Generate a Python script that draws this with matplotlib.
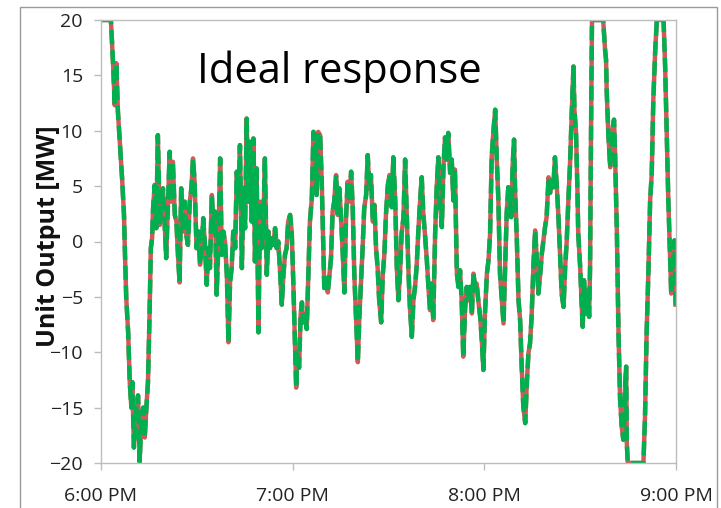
import matplotlib
matplotlib.use("Agg")
import matplotlib.pyplot as plt
from matplotlib.patches import Rectangle

# minutes after 6:00 PM
minutes = [
    0, 3.1, 3.8, 4.3, 4.8, 5.3, 5.9, 6.6, 7.2, 7.4,
    7.9, 8.5, 9.0, 9.5, 9.8, 10.3, 11.1, 11.6, 12.1, 12.6,
    13.2, 13.7, 14.2, 14.7, 15.2, 15.6, 16.0, 16.3, 16.8, 17.3,
    17.8, 18.4, 18.9, 19.4, 19.9, 20.4, 21.0, 21.5, 22.0, 22.5,
    23.1, 23.6, 24.1, 24.6, 25.1, 25.7, 26.2, 26.7, 27.2, 27.8,
    28.3, 28.8, 29.3, 29.9,
    30.5, 31.0, 31.5, 32.0, 32.6, 33.1, 33.6, 34.1, 34.7, 35.2,
    35.7, 36.2, 36.7, 37.3, 37.8, 38.3, 38.8, 39.4, 39.9, 40.4,
    40.9, 41.4, 42.0, 42.5, 43.0, 43.5, 44.1, 44.6, 45.1, 45.6,
    46.1, 46.7, 47.2, 47.7, 48.2, 48.7, 49.3, 49.8, 50.3, 50.8,
    51.3, 51.9, 52.4, 52.9, 53.4, 53.9, 54.5, 55.0, 55.5, 56.0,
    56.6, 57.1, 57.6, 58.1, 58.6, 59.2, 59.7,
    60.2, 60.7, 61.1, 61.5, 62.0, 62.5, 62.9, 63.3, 63.9, 64.4,
    64.9, 65.4, 66.0, 66.5, 67.0, 67.3, 67.5, 68.0, 68.6, 69.1,
    69.6, 69.9, 70.4, 71.0, 71.5, 72.0, 72.5, 73.0, 73.6, 74.1,
    74.6, 75.1, 75.7, 76.2, 76.7, 77.2, 77.7, 78.3, 78.8, 79.3,
    79.8, 80.4, 80.9, 81.4, 81.9, 82.4, 83.0, 83.5, 84.0, 84.5,
    85.1, 85.6, 86.1, 86.6, 87.1, 87.7, 88.2, 88.7, 89.2, 89.8,
    90.3,
    91.0, 91.5, 92.1, 92.6, 93.1, 93.6, 94.1, 94.7, 95.2, 95.7,
    96.2, 96.7, 97.3, 97.8, 98.3, 98.8, 99.3, 99.9, 100.4, 100.9,
    101.4, 102.0, 102.5, 103.0, 103.5, 104.0, 104.6, 105.1, 105.6, 106.1,
    106.7, 107.2, 107.7, 108.2, 108.7, 109.3, 109.8, 110.3, 110.8, 111.4,
    111.9, 112.4, 112.9, 113.4, 114.0, 114.5, 115.0, 115.5, 116.1, 116.6,
    117.1, 117.6, 118.1, 118.7, 119.2, 119.7, 120.2, 120.8, 121.3, 121.8,
    122.3, 122.8, 123.4, 123.9, 124.4,
    124.9, 125.5, 126.0, 126.5, 127.0, 127.5, 128.1, 128.4, 128.9, 129.3,
    129.6, 130.2, 130.7, 131.2, 131.7, 132.2, 132.8, 133.3, 133.8, 134.3,
    134.8, 135.4, 135.9, 136.4, 136.9, 137.5, 138.0, 138.5, 139.0, 139.5,
    140.1, 140.6, 141.1, 141.6, 142.1, 142.7, 143.2, 143.7, 144.2, 144.8,
    145.3, 145.8, 146.3, 146.8, 147.4, 147.9, 148.2, 148.7, 149.1, 149.4,
    150.0, 150.5, 150.8, 151.2, 151.8, 152.3, 152.8, 153.1, 153.4, 153.7,
    157.2, 157.8, 158.1, 158.3, 158.8, 159.4, 159.7, 160.2, 160.6, 160.9,
    161.5, 162.0, 162.5, 163.0, 163.5, 164.1, 164.4, 164.6, 164.9, 169.8,
    170.3, 170.8, 171.4, 171.9, 172.4, 172.9, 173.5, 174.0, 176.1, 176.6,
    177.1, 177.6, 178.2, 178.5, 178.9, 179.5, 179.9,
]

# unit output in MW
output_mw = [
    20, 20, 15.9, 12.3, 16.1, 11.7, 9.0, 5.7, 2.4, 0,
    -5.1, -8.2, -12.7, -15, -12.7, -18.6, -15, -13.9, -19.9, -16.3,
    -15, -17.7, -15, -12.7, -6.6, -0.6, 0.3, 3, 5.1, 1.2,
    9.6, 1.5, 3.6, 4.8, 1.8, -1.5, 3.6, 8.1, 3.6, 7.2,
    2.4, 1.8, -1.2, -3.7, 4.8, 0.9, 3.6, 0.6, -0.3, 3.6,
    4.8, 7.5, 5.4, -0.6,
    0.9, -2.1, -0.6, 2.1, -0.6, -3.9, -0.6, -2.4, 4.2, 1.2,
    2.7, -4.8, -0.6, 7.5, -1.2, 0.9, 0, -3, -9.1, -3.7,
    -2.4, 0.9, -0.6, 6.3, 3.6, 8.7, -2.4, 4.8, 1.2, 11.1,
    3.6, 9.0, 1.8, 9.3, -1.8, 6.6, -8.2, 3.6, -0.6, 1.2,
    7.5, -3, 0.9, -0.6, 0.3, -0.3, 1.2, -0.6, 0, -2.4,
    -5.7, -3, -1.2, -0.6, 1.8, 2.4, 0.9,
    -3.7, -9.1, -13.2, -10.2, -11.4, -6.6, -5.5, -7.3, -6.6, -7.9,
    -3, 1.8, 3.9, 9.9, 9.3, 7.8, 4.2, 9.9, 9.6, 5.4,
    -0.6, -4.2, -3.3, -4.6, -3, -1.5, 2.7, 3.6, 6.0, 2.4,
    4.8, 2.4, -1.2, -4.6, 2.1, 5.4, 3.6, 6.3, 3, -3,
    -6.6, -10.9, -6.6, -3.7, -0.6, 3, 4.2, 7.8, 4.8, 6.0,
    1.8, 3.3, -0.6, -2.4, -5.4, -7.3, -3, -1.2, 2.4, 5.1,
    6,
    3.1, 7.6, 3.7, -2.3, -5.3, -2.9, 0.7, 2.2, 7.4, 2.5,
    -2.3, -5.9, -8.6, -5.3, -4.1, -2.3, 0.7, 3.7, 5.8, 2.5,
    0.7, -1.7, -4.1, -6.2, -3.8, -7.1, 0.7, 4.9, 7.6, 3.7,
    1.3, 6.7, 9.4, 7.4, 9.8, 6.2, 7.4, 3.7, 6.5, -2.9,
    -4.1, -2.6, -5.3, -10.4, -5.9, -4.1, -5.3, -4.1, -6.5, -2.9,
    -4.1, -3.8, -5.3, -6.8, -8.9, -11.6, -6.5, -2.9, -1.7, 0.7,
    7.6, 9.8, 11.9, 7.4, 3.7,
    -2.9, -5.3, -7.4, -2.3, 2.5, 4.9, 3.7, 2.2, 7.1, 9.2,
    4.9, -0.1, -5.3, -7.1, -11.3, -14.9, -16.4, -12.8, -10.1, -9.2,
    -6.8, -2, 1, -1.4, -4.7, -2.9, -1.1, 0.1, 1.3, 2.2,
    5.8, 4.4, 5.5, 4.9, 7.6, 4.9, 2.2, -1.1, -4.7, -5.9,
    -2.3, 0.1, 3.7, 6.8, 11.9, 15.8, 11.9, 9.8, 5.2, 0.7,
    -2.3, -5.9, -7.7, -3.5, -6.5, -4.4, -6.8, -2.3, 9.8, 20,
    20, 17.3, 16.4, 13.7, 9.8, 6.7, 8.5, 10.3, 11.0, 8.2,
    0.7, -8.3, -14.3, -16.7, -17.9, -12.8, -11.3, -18.2, -20, -20,
    -15.8, -8.3, -2.3, 3.7, 6.1, 12.8, 17.3, 20, 20, 15.8,
    9.8, 3.7, -1.7, -4.7, -2.3, 0.1, -5.9,
]

hour_ticks = [0, 60, 120, 180]
hour_labels = ["6:00 PM", "7:00 PM", "8:00 PM", "9:00 PM"]
y_ticks = [-20, -15, -10, -5, 0, 5, 10, 15, 20]

plt.rcParams['font.family'] = ['Open Sans', 'DejaVu Sans']

fig = plt.figure(figsize=(7.21, 5.08), dpi=100)
ax = fig.add_axes([101 / 721, 45 / 508, 575 / 721, 443 / 508])

# chart area frame
fig.patches.append(Rectangle((20 / 721, -0.02), 697 / 721, 1 - 7 / 508 + 0.02,
                             transform=fig.transFigure, fill=False,
                             edgecolor='#9a9a9a', linewidth=1.0))

# red solid under green dashes
ax.plot(minutes, output_mw, color='#cf5a57', linewidth=3.2, solid_capstyle='butt')
ax.plot(minutes, output_mw, color='#00b050', linewidth=3.2,
        linestyle=(0, (3.2, 1.3)), dash_capstyle='butt')

ax.set_xlim(0, 180)
ax.set_ylim(-20, 20)
ax.set_xticks(hour_ticks)
ax.set_xticklabels(hour_labels)
ax.set_yticks(y_ticks)

for s in ax.spines.values():
    s.set_color('#bdbdbd')
    s.set_linewidth(1.0)
ax.tick_params(axis='both', colors='#bdbdbd', length=5, width=1.0,
               labelcolor='#222222', labelsize=14)
ax.tick_params(axis='y', pad=8)
ax.tick_params(axis='x', pad=12)

ax.set_ylabel('Unit Output [MW]', fontsize=18, fontweight='bold', color='#111111')
ax.yaxis.set_label_coords(-0.069, 0.511)

ax.text(0.167, 0.858, 'Ideal response', transform=ax.transAxes,
        fontsize=30, ha='left', va='baseline', color='#000000')

fig.savefig('out.png', dpi=100)
